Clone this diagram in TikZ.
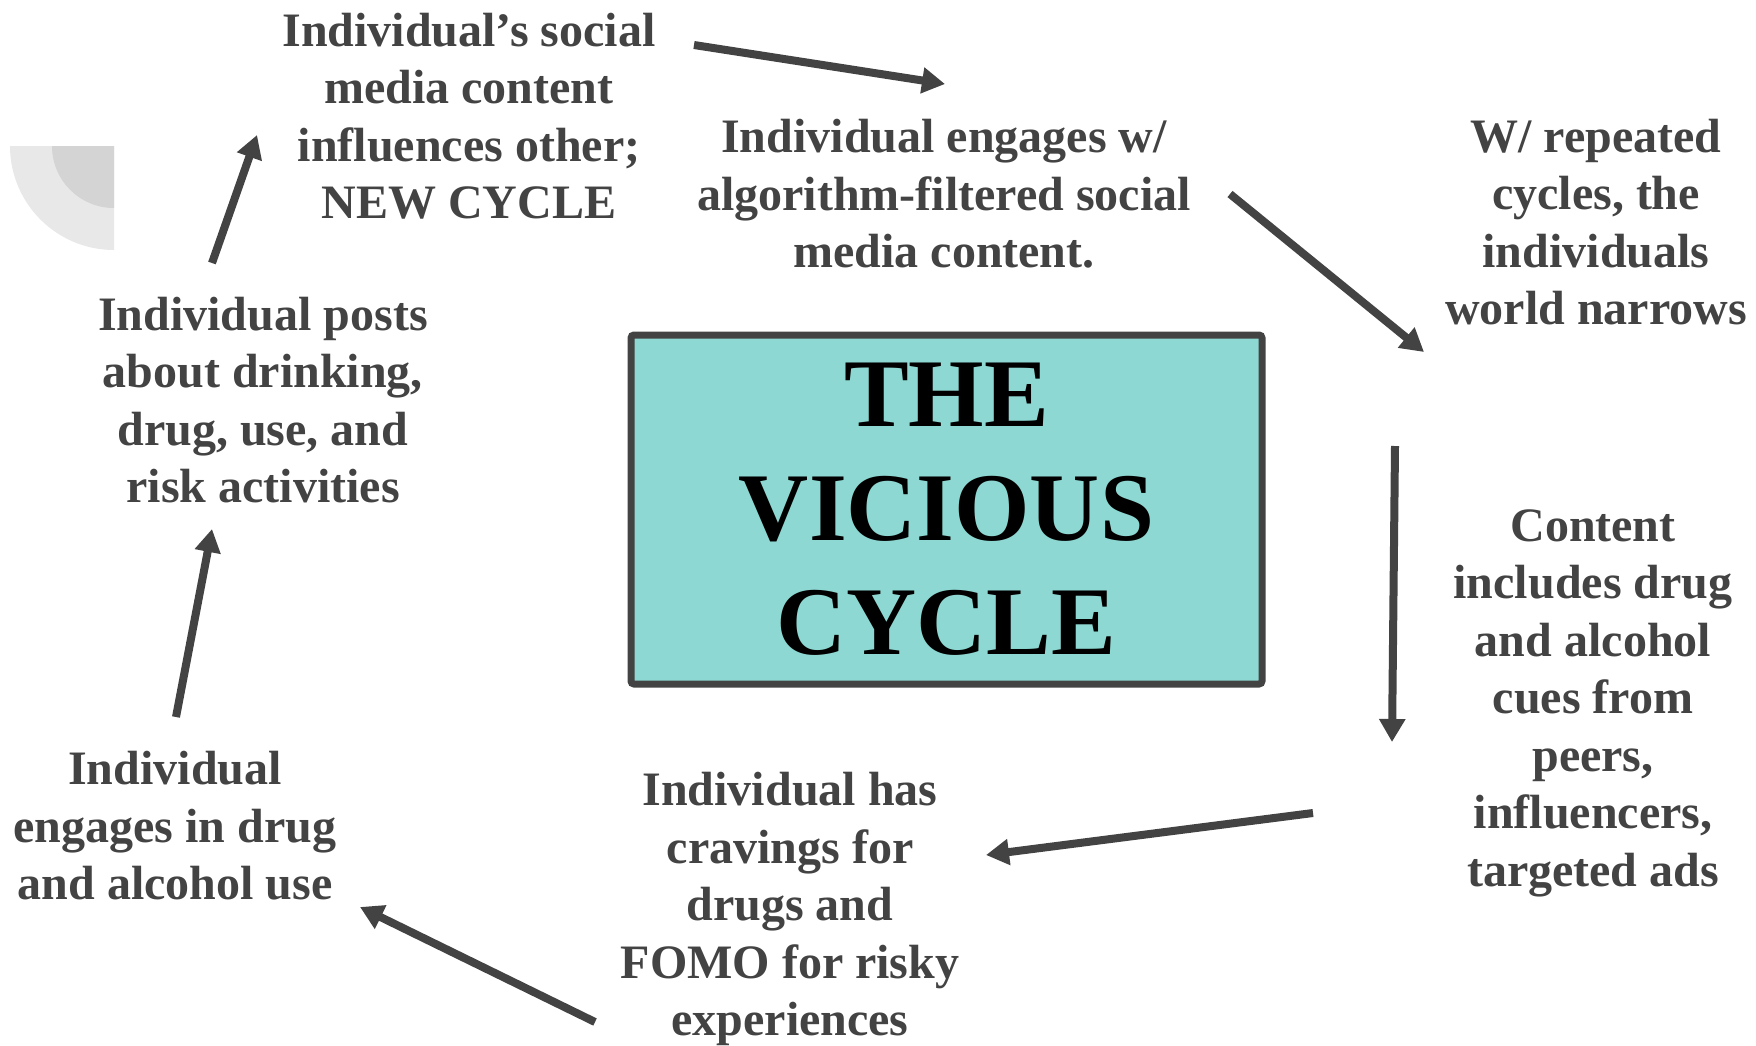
\documentclass[tikz,border=0pt]{standalone}
\usepackage{fontspec}
\setmainfont{Liberation Serif}
\usetikzlibrary{arrows.meta}
\definecolor{txt}{HTML}{434343}
\definecolor{boxfill}{HTML}{8DD8D2}
\definecolor{decoA}{HTML}{E8E8E8}
\definecolor{decoB}{HTML}{D4D4D4}
\tikzset{
  lbl/.style={inner sep=0pt, align=center, text=txt, font=\bfseries\fontsize{48}{57.5}\selectfont},
  arr/.style={draw=txt, line width=8pt, -{Triangle[length=23pt,width=25pt]}},
}
\begin{document}
\begin{tikzpicture}[x=1pt,y=-1pt]
\useasboundingbox (0,0) rectangle (1756,1045);
% decoration
\fill[decoA] (114,146) -- (10,146) arc[start angle=180,end angle=270,radius=104pt] -- cycle;
\fill[decoB] (114,146) -- (52,146) arc[start angle=180,end angle=270,radius=62pt] -- cycle;
% central box
\node[draw=txt, fill=boxfill, line width=7pt, rounded corners=3pt, minimum width=631pt, minimum height=349pt, inner sep=0pt, align=center, font=\bfseries\fontsize{97}{114}\selectfont] (title) at (946.5,509.5) {THE\\VICIOUS\\CYCLE};
% text blocks
\node[lbl] (a) at (469,116) {Individual’s social\\media content\\influences other;\\NEW CYCLE};
\node[lbl] (b) at (944,194) {Individual engages w/\\algorithm-filtered social\\media content.};
\node[lbl] (c) at (1596,222) {W/ repeated\\cycles, the\\individuals\\world narrows};
\node[lbl] (d) at (1593,703) {Content\\includes drug\\and alcohol\\cues from\\peers,\\influencers,\\targeted ads};
\node[lbl] (e) at (790,909) {Individual has\\cravings for\\drugs and\\FOMO for risky\\experiences};
\node[lbl] (f) at (175,826) {Individual\\engages in drug\\and alcohol use};
\node[lbl] (g) at (263,400) {Individual posts\\about drinking,\\drug, use, and\\risk activities};
% arrow endpoints
\coordinate (a1) at (694,45);   \coordinate (a2) at (945,84);
\coordinate (b1) at (1230,194); \coordinate (b2) at (1424,352);
\coordinate (c1) at (1395,446); \coordinate (c2) at (1392,742);
\coordinate (d1) at (1313,813); \coordinate (d2) at (986,855);
\coordinate (e1) at (595,1022); \coordinate (e2) at (360,907);
\coordinate (f1) at (176,717);  \coordinate (f2) at (212,529);
\coordinate (g1) at (212,263);  \coordinate (g2) at (257,135);
\draw[arr] (a1) -- (a2);
\draw[arr] (b1) -- (b2);
\draw[arr] (c1) -- (c2);
\draw[arr] (d1) -- (d2);
\draw[arr] (e1) -- (e2);
\draw[arr] (f1) -- (f2);
\draw[arr] (g1) -- (g2);
\end{tikzpicture}
\end{document}
